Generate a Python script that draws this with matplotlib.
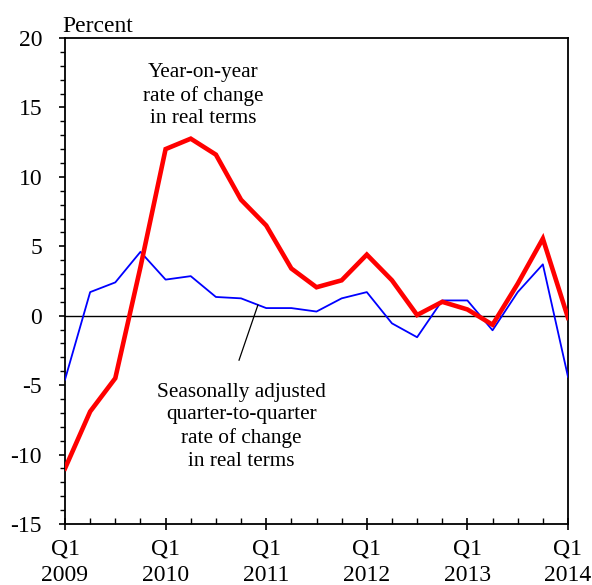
import numpy as np
import matplotlib
matplotlib.use("Agg")
import matplotlib.pyplot as plt
from matplotlib.ticker import MultipleLocator

plt.rcParams['font.family'] = ['Liberation Serif', 'DejaVu Serif']
plt.rcParams['axes.unicode_minus'] = False

quarters = np.arange(21)
year_labels = ['Q1\n2009', 'Q1\n2010', 'Q1\n2011', 'Q1\n2012', 'Q1\n2013', 'Q1\n2014']
yoy = [-11.0, -6.9, -4.5, 3.5, 12.0, 12.75, 11.6, 8.35, 6.5, 3.4, 2.05,
       2.55, 4.4, 2.55, 0.05, 1.0, 0.45, -0.65, 2.3, 5.55, -0.15]
qoq = [-4.6, 1.7, 2.4, 4.6, 2.6, 2.85, 1.35, 1.25, 0.55, 0.55, 0.3,
       1.25, 1.7, -0.55, -1.55, 1.1, 1.1, -1.05, 1.7, 3.7, -4.4]

fig = plt.figure(figsize=(5.92, 5.85), dpi=100)
ax = fig.add_axes([65/592, 1-524/585, 503/592, 486/585])

ax.plot(quarters, qoq, color='#0000ff', lw=1.3, zorder=3)
ax.plot(quarters, yoy, color='#ff0000', lw=3.3, zorder=4, solid_joinstyle='miter')
ax.axhline(0, color='black', lw=1.0, zorder=2)

ax.set_xlim(0, 20)
ax.set_ylim(-15, 20)
ax.set_xticks(np.arange(0, 21, 4))
ax.set_xticklabels(year_labels)
ax.xaxis.set_minor_locator(MultipleLocator(1))
ax.yaxis.set_major_locator(MultipleLocator(5))
ax.yaxis.set_minor_locator(MultipleLocator(1))

ax.tick_params(axis='x', which='major', direction='inout', length=9, width=1.2,
               labelsize=17, pad=6)
ax.tick_params(axis='x', which='minor', direction='in', length=4, width=1.0)
ax.tick_params(axis='y', which='major', direction='out', length=4.5, width=1.2,
               labelsize=17, pad=12)
ax.tick_params(axis='y', which='minor', direction='out', length=3.5, width=1.0)
for lab in ax.get_xticklabels():
    lab.set_linespacing(1.35)
for s in ax.spines.values():
    s.set_linewidth(1.3)

ax.text(-0.005, 1.003, 'Percent', transform=ax.transAxes, ha='left', va='bottom', fontsize=17)

ax.text(5.49, 15.85, 'Year-on-year\nrate of change\nin real terms', ha='center', va='center',
        fontsize=15.3, linespacing=1.25)
ax.text(7.02, -8.0, 'Seasonally adjusted\nquarter-to-quarter\nrate of change\nin real terms',
        ha='center', va='center', fontsize=15.3, linespacing=1.25)
ax.plot([6.92, 7.67], [-3.2, 0.77], color='black', lw=0.9, zorder=5)

fig.savefig('out.png', dpi=100)
